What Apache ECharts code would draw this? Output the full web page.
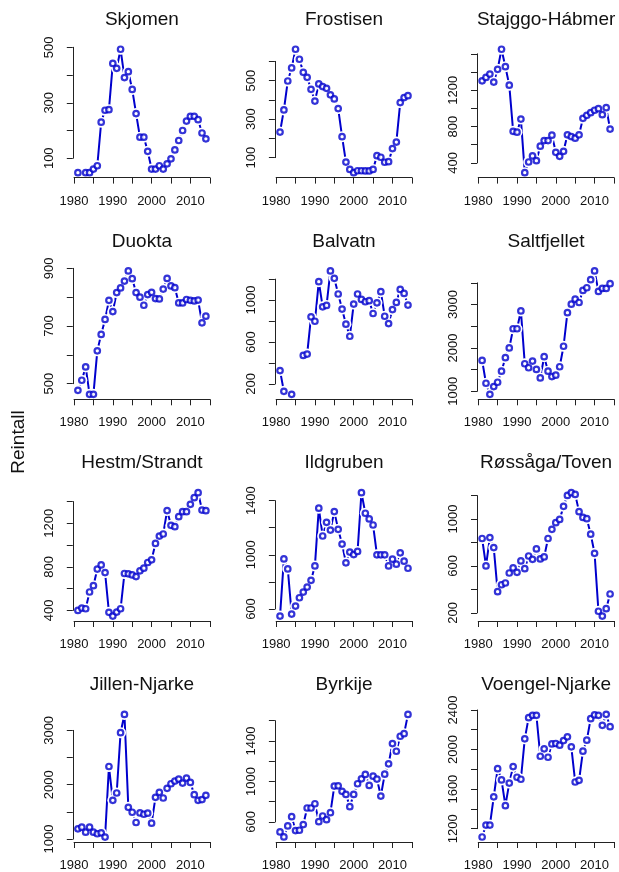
<!DOCTYPE html>
<html><head><meta charset="utf-8">
<script src="https://cdn.jsdelivr.net/npm/echarts@6/dist/echarts.min.js"></script>
<style>html,body{margin:0;padding:0;background:#fff}#c{width:619px;height:872px}</style>
</head><body><div id="c"></div>
<script>
// ---------- data ----------
const years = [1981,1982,1983,1984,1985,1986,1987,1988,1989,1990,1991,1992,1993,1994,1995,1996,1997,1998,1999,2000,2001,2002,2003,2004,2005,2006,2007,2008,2009,2010,2011,2012,2013,2014];
const panelTitles = ['Skjomen','Frostisen','Stajggo-Hábmer','Duokta','Balvatn','Saltfjellet','Hestm/Strandt','Ildgruben','Røssåga/Toven','Jillen-Njarke','Byrkije','Voengel-Njarke'];

const skjomen    = [48,null,48,48,61,73,230,273,275,442,424,493,391,412,348,261,176,176,125,61,61,73,61,80,98,130,164,200,234,251,251,239,191,170];
const frostisen  = [233,348,498,566,663,611,543,517,455,394,483,469,460,426,405,355,209,77,39,22,32,32,31,31,39,110,102,76,79,147,181,386,412,422];
const stajggo    = [1303,1340,1377,1289,1429,1650,1458,1255,748,738,882,293,410,477,425,584,646,646,705,517,473,528,709,690,672,709,890,923,953,979,997,931,1008,772];
const duokta     = [477,512,558,463,463,614,671,723,789,750,816,832,856,891,864,816,800,772,809,817,795,794,828,865,839,833,780,780,792,789,787,790,711,734];
const balvatn    = [328,130,null,101,null,null,472,485,840,798,1176,936,949,1278,1208,1058,914,770,655,962,1058,1006,984,994,872,974,1080,846,776,910,978,1102,1064,952];
const saltfjellet= [1713,1186,930,1109,1209,1465,1775,2000,2442,2442,2853,1636,1543,1698,1504,1310,1798,1465,1341,1372,1566,2039,2814,3008,3124,3047,3326,3388,3574,3775,3302,3372,3372,3481];
const hestm      = [400,421,415,569,627,780,818,748,382,348,385,415,739,736,726,711,764,788,840,865,1015,1083,1102,1317,1182,1169,1261,1307,1307,1375,1436,1482,1322,1316];
const ildgruben  = [548,970,896,563,622,683,725,762,812,918,1344,1139,1240,1183,1319,1188,1079,941,1020,1002,1025,1459,1307,1265,1220,1000,1000,1000,918,968,931,1015,953,901];
const rossaga    = [834,600,842,757,381,440,455,540,583,546,643,577,685,657,745,660,677,834,912,969,997,1108,1201,1225,1210,1063,1014,1003,871,708,214,173,236,361];
const jillen     = [1189,1220,1128,1220,1128,1098,1116,1037,2335,1713,1848,2957,3293,1585,1494,1305,1482,1457,1476,1293,1768,1860,1756,1933,2018,2067,2104,2030,2122,2043,1817,1713,1726,1805];
const byrkije    = [502,452,561,652,515,518,574,738,738,780,603,659,623,692,954,957,902,872,751,872,977,1026,1069,961,1052,1023,856,1072,1174,1374,1298,1446,1472,1662];
const voengel    = [1116,1237,1237,1522,1807,1693,1433,1661,1828,1720,1700,2108,2322,2346,2346,1932,2007,1922,2057,2061,2044,2091,2128,2027,1672,1689,1983,2095,2312,2350,2346,2245,2356,2231];

const yTickLists = [
  [100,200,300,400,500],
  [100,200,300,400,500,600],
  [400,600,800,1000,1200,1400,1600],
  [500,600,700,800,900],
  [200,400,600,800,1000,1200],
  [1000,1500,2000,2500,3000,3500],
  [400,600,800,1000,1200,1400],
  [600,800,1000,1200,1400],
  [200,400,600,800,1000,1200],
  [1000,1500,2000,2500,3000],
  [600,800,1000,1200,1400,1600],
  [1200,1400,1600,1800,2000,2200,2400]
];
const yTickLabels = [
  [100,300,500],[100,300,500],[400,800,1200],
  [500,700,900],[200,600,1000],[1000,2000,3000],
  [400,800,1200],[600,1000,1400],[200,600,1000],
  [1000,2000,3000],[600,1000,1400],[1200,1600,2000,2400]
];
const xTickLabels = [1980,1990,2000,2010];
const yAxisTitle = 'Reintall';

// ---------- layout ----------
const seriesValues = [skjomen,frostisen,stajggo,duokta,balvatn,saltfjellet,hestm,ildgruben,rossaga,jillen,byrkije,voengel];
const PL0 = 72.8, CS = 202.1, PW = 138.2;
const PT0 = 44.3, RS = 221.7, PH = 133.3;
const BLUE = '#0000CD';
const FONT = 'Liberation Sans, Arial, sans-serif';

const grids=[], xAxes=[], yAxes=[], series=[], titles=[];
const xlo = years[0] - 0.04*(years[years.length-1]-years[0]);
const xhi = years[years.length-1] + 0.04*(years[years.length-1]-years[0]);

seriesValues.forEach((vals,i)=>{
  const col=i%3, row=Math.floor(i/3);
  const v=vals.filter(d=>d!=null);
  const dmin=Math.min(...v), dmax=Math.max(...v);
  const ext=(dmax-dmin)*0.04;
  const ylo=dmin-ext, yhi=dmax+ext;
  const ticks=yTickLists[i];
  const tmin=ticks[0], tmax=ticks[ticks.length-1], step=ticks[1]-ticks[0];
  const plotTop=PT0+row*RS, plotLeft=PL0+col*CS;
  const sy=PH/(yhi-ylo), sx=PW/(xhi-xlo);
  const gl=plotLeft+(1980-xlo)*sx, gw=35*sx;
  const gt=plotTop+(yhi-tmax)*sy, gh=(tmax-tmin)*sy;
  grids.push({left:gl, top:gt, width:gw, height:gh});
  const labs=yTickLabels[i];
  xAxes.push({type:'value', gridIndex:i, min:1980, max:2015, interval:5, z:5,
    offset:(tmin-ylo)*sy,
    axisLine:{show:true, onZero:false, lineStyle:{color:'#222', width:1}},
    axisTick:{show:true, length:6, lineStyle:{color:'#222'}},
    splitLine:{show:false},
    axisLabel:{show:true, margin:17, fontSize:13, color:'#111', fontFamily:FONT,
      formatter:(val)=> xTickLabels.includes(val) ? String(val) : ''}
  });
  yAxes.push({type:'value', gridIndex:i, min:tmin, max:tmax, interval:step, z:5,
    offset:(1980-xlo)*sx,
    axisLine:{show:true, onZero:false, lineStyle:{color:'#222', width:1}},
    axisTick:{show:true, length:6, lineStyle:{color:'#222'}},
    splitLine:{show:false},
    axisLabel:{show:true, rotate:90, margin:17, fontSize:13, color:'#111', fontFamily:FONT,
      formatter:(val)=> labs.includes(val) ? String(val) : ''}
  });
  const pairs=years.map((y,k)=>[y, vals[k]==null ? '-' : vals[k]]);
  series.push({type:'line', xAxisIndex:i, yAxisIndex:i, data:pairs, clip:false, z:1,
    symbol:'circle', symbolSize:11, showSymbol:true, connectNulls:false,
    itemStyle:{color:'#fff'}, lineStyle:{color:BLUE, width:2},
    silent:true, animation:false});
  series.push({type:'scatter', xAxisIndex:i, yAxisIndex:i, data:pairs.filter(p=>p[1]!=='-'), clip:false, z:8,
    symbol:'circle', symbolSize:5.5,
    itemStyle:{color:'#fff', borderColor:BLUE, borderWidth:2.2},
    silent:true, animation:false});
  titles.push({text:panelTitles[i], left:plotLeft+PW/2, top:plotTop-23.6-10.5, textAlign:'center', padding:0,
    textStyle:{fontSize:19, fontWeight:'normal', color:'#111', fontFamily:FONT}});
});

const chart=echarts.init(document.getElementById('c'), null, {renderer:'canvas'});
chart.setOption({
  animation:false,
  backgroundColor:'#fff',
  title:titles,
  grid:grids, xAxis:xAxes, yAxis:yAxes, series:series,
  graphic:[{type:'text', x:19, y:442, rotation:Math.PI/2,
    style:{text:yAxisTitle, font:'19px Liberation Sans, Arial, sans-serif', fill:'#111', textAlign:'center', textVerticalAlign:'middle'}}]
});
</script></body></html>
